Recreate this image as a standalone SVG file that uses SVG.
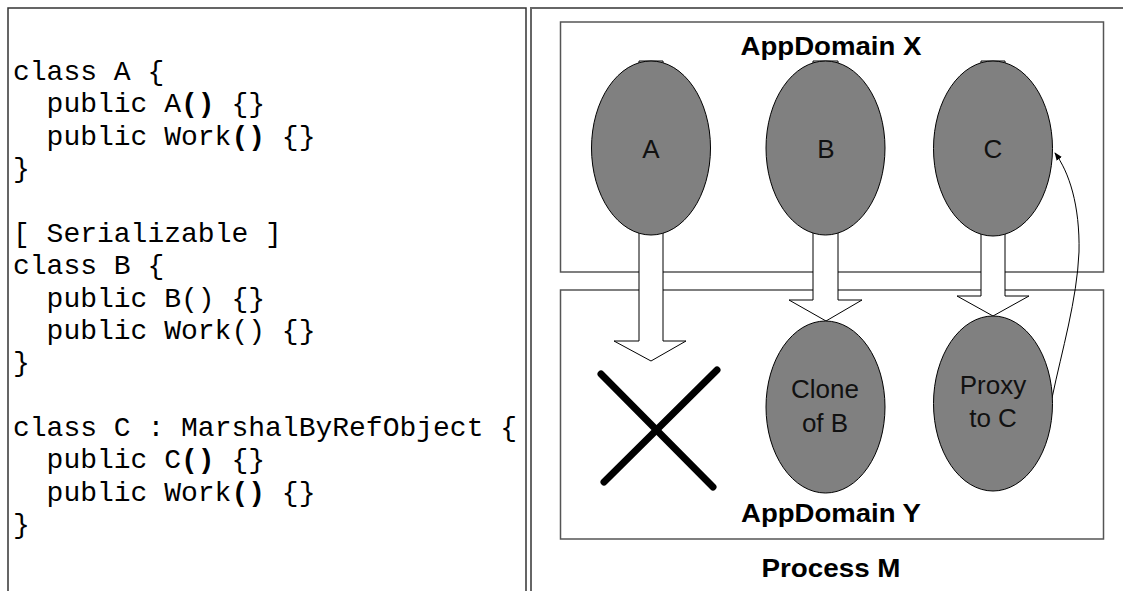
<svg xmlns="http://www.w3.org/2000/svg" width="1123" height="591" viewBox="0 0 1123 591">
  <style>
    .code { font-family: "Liberation Mono", "Courier New", monospace; font-size: 28px; fill: #000; }
    .code .b { font-weight: bold; }
    .title { font-family: "Liberation Sans", Arial, sans-serif; font-size: 25px; font-weight: bold; fill: #000; text-anchor: middle; }
    .lbl { font-family: "Liberation Sans", Arial, sans-serif; font-size: 26px; fill: #111; text-anchor: middle; }
    .domain { fill: none; stroke: #555; stroke-width: 1.5; }
    .obj { fill: #808080; stroke: #000; stroke-width: 1; }
    .blk { fill: #fff; stroke: #000; stroke-width: 1; }
    .cross { stroke: #000; stroke-width: 7; stroke-linecap: round; }
  </style>
  <defs>
    <marker id="ah" viewBox="0 0 10 10" refX="9" refY="5" markerWidth="8" markerHeight="8" markerUnits="userSpaceOnUse" orient="auto">
      <path d="M0,1 L10,5 L0,9 z" fill="#000"/>
    </marker>
  </defs>
  <rect width="1123" height="591" fill="#fff"/>

  <!-- panels -->
  <g id="code-panel">
    <path d="M8,600 V8 H526 V600" fill="none" stroke="#333" stroke-width="1.5"/>
    <text class="code" x="13" y="80">class A {</text>
    <text class="code" x="46.6" y="112.4">public A<tspan class="b">()</tspan> {}</text>
    <text class="code" x="46.6" y="144.7">public Work<tspan class="b">()</tspan> {}</text>
    <text class="code" x="13" y="177.1">}</text>
    <text class="code" x="13" y="241.8">[ Serializable ]</text>
    <text class="code" x="13" y="274.2">class B {</text>
    <text class="code" x="46.6" y="306.5">public B() {}</text>
    <text class="code" x="46.6" y="338.9">public Work() {}</text>
    <text class="code" x="13" y="371.2">}</text>
    <text class="code" x="13" y="436">class C : MarshalByRefObject {</text>
    <text class="code" x="46.6" y="468.3">public C<tspan class="b">()</tspan> {}</text>
    <text class="code" x="46.6" y="500.7">public Work<tspan class="b">()</tspan> {}</text>
    <text class="code" x="13" y="533">}</text>
  </g>

  <g id="process-m">
    <path d="M531,600 V8 H1130" fill="none" stroke="#666" stroke-width="2"/>
    <text class="title" x="831" y="577" textLength="139" lengthAdjust="spacingAndGlyphs">Process M</text>
  </g>

  <g id="appdomain-x">
    <rect class="domain" x="560.5" y="22" width="543" height="250"/>
    <text class="title" x="831" y="55" textLength="181" lengthAdjust="spacingAndGlyphs">AppDomain X</text>
  </g>
  <g id="appdomain-y">
    <rect class="domain" x="560.5" y="290" width="543" height="249"/>
    <text class="title" x="831" y="522" textLength="180" lengthAdjust="spacingAndGlyphs">AppDomain Y</text>
  </g>

  <!-- connectors -->
  <g id="connectors">
    <path class="blk" d="M639,61 V341 H614 L651,361 L686,341 H663 V61 Z"/>
    <path class="blk" d="M813,61 V300 H789 L826,321 L862,300 H838 V61 Z"/>
    <path class="blk" d="M981,61 V296 H957 L993,316 L1029,296 H1005 V61 Z"/>
    <path d="M1052,398 C1062,350 1077,300 1079,252 C1080,205 1069,172 1055,153" fill="none" stroke="#000" stroke-width="1" marker-end="url(#ah)"/>
  </g>

  <g id="obj-a">
    <ellipse class="obj" cx="651" cy="148" rx="59.5" ry="87"/>
    <text class="lbl" x="651" y="158">A</text>
  </g>
  <g id="obj-b">
    <ellipse class="obj" cx="825.5" cy="148" rx="59.5" ry="87"/>
    <text class="lbl" x="826" y="158">B</text>
  </g>
  <g id="obj-c">
    <ellipse class="obj" cx="993" cy="148.5" rx="59.5" ry="87.5"/>
    <text class="lbl" x="993" y="158">C</text>
  </g>
  <g id="obj-clone-b">
    <ellipse class="obj" cx="825.5" cy="407" rx="59.5" ry="86"/>
    <text class="lbl" x="825" y="398">Clone</text>
    <text class="lbl" x="825" y="432">of B</text>
  </g>
  <g id="obj-proxy-c">
    <ellipse class="obj" cx="993" cy="403.5" rx="59.5" ry="87.5"/>
    <text class="lbl" x="993" y="394">Proxy</text>
    <text class="lbl" x="993" y="427">to C</text>
  </g>
  <g id="discarded-a">
    <line class="cross" x1="601" y1="374" x2="713" y2="487"/>
    <line class="cross" x1="717" y1="370" x2="604" y2="482"/>
  </g>
</svg>
